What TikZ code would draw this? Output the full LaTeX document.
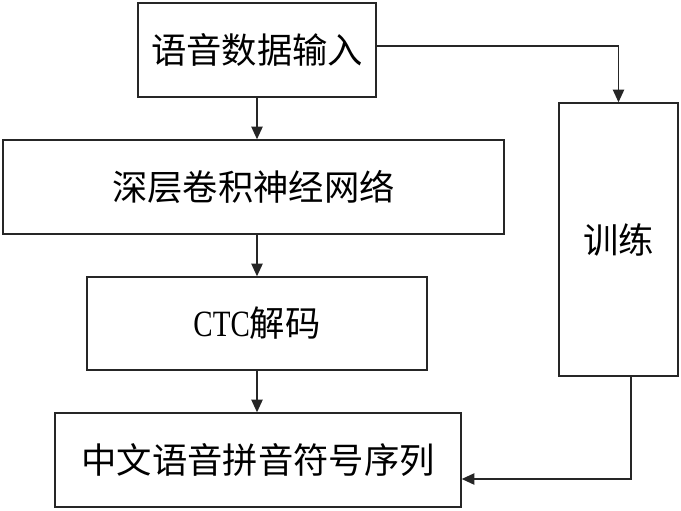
\documentclass[tikz,border=0pt]{standalone}
\usepackage{fontspec}
\usepackage{graphicx}
\setmainfont{Liberation Serif}
\newfontfamily\cjk{Noto Sans CJK SC}
\usetikzlibrary{arrows.meta}
\tikzset{
  box/.style={draw=black!85, line width=1.1pt, rectangle, inner sep=0pt, font=\cjk\fontsize{26.5pt}{31pt}\selectfont},
  arr/.style={draw=black!85, line width=1.1pt, -{Triangle[length=9.5pt,width=8.5pt]}}
}
\begin{document}
\begin{tikzpicture}[x=0.75pt,y=-0.75pt]
\useasboundingbox (0,0) rectangle (681,510);
\node[box, minimum width=238*0.75pt, minimum height=94*0.75pt] (b1) at (257,50) {语音数据输入};
\node[box, minimum width=501*0.75pt, minimum height=94*0.75pt] (b2) at (253.5,187) {深层卷积神经网络};
\node[box, minimum width=340*0.75pt, minimum height=93*0.75pt] (b3) at (257,323.5) {{\rmfamily\scalebox{0.82}[1.05]{CTC}}解码};
\node[box, minimum width=406*0.75pt, minimum height=94*0.75pt] (b4) at (258,460) {中文语音拼音符号序列};
\node[box, minimum width=119*0.75pt, minimum height=273*0.75pt] (b5) at (618.5,239.5) {训练};
\coordinate (c0) at (376,46);
\coordinate (c1) at (631,479);
\draw[arr] (b1.south) -- (b1.south |- b2.north);
\draw[arr] (b3.north |- b2.south) -- (b3.north);
\draw[arr] (b3.south) -- (b3.south |- b4.north);
\draw[arr] (b1.east |- c0) -| (b5.north);
\draw[arr] (b5.south -| c1) |- (b4.east |- c1);
\end{tikzpicture}
\end{document}
